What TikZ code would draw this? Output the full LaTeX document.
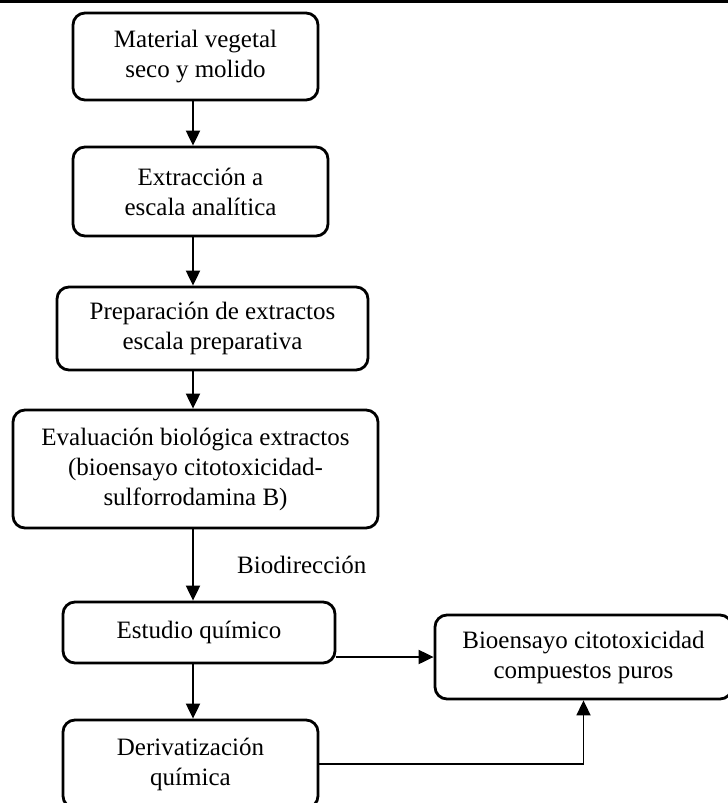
\documentclass[tikz,border=0pt]{standalone}
\usepackage{fontspec}
\setmainfont{Liberation Serif}
\usetikzlibrary{arrows.meta}

\begin{document}
\begin{tikzpicture}[x=1pt,y=-1pt,
	caja/.style={draw, line width=2.8pt, rounded corners=12pt, align=center, inner sep=0pt, font=\fontsize{25}{30}\selectfont},
	flecha/.style={line width=2pt, -{Triangle[length=15pt,width=14pt]}}]

	\useasboundingbox (0,0) rectangle (728,803);
	\draw[line width=3pt] (0,1.5) -- (728,1.5);

	\coordinate (ax) at (193,0);

	\node[caja, minimum width=245pt, minimum height=87pt] (mat) at (195.5,56.5) {Material vegetal\\seco y molido};
	\node[caja, minimum width=255pt, minimum height=89pt] (ext) at (200.5,191.5) {Extracción a\\escala analítica};
	\node[caja, minimum width=311pt, minimum height=83pt] (prep) at (212.5,328.5) {Preparación de extractos\\escala preparativa};
	\node[caja, minimum width=365pt, minimum height=118pt] (eval) at (195.5,469) {Evaluación biológica extractos\\(bioensayo citotoxicidad-\\sulforrodamina B)};
	\node[caja, minimum width=272pt, minimum height=61pt] (est) at (199,632.5) {Estudio químico};
	\node[caja, minimum width=255pt, minimum height=88pt] (deriv) at (190.5,764) {Derivatización\\química};
	\node[caja, minimum width=297pt, minimum height=84pt] (bioens) at (583.5,657) {Bioensayo citotoxicidad\\compuestos puros};

	\node[anchor=base west, inner sep=0pt, font=\fontsize{25}{30}\selectfont] (biodir) at (237,573) {Biodirección};

	\draw[flecha] (mat.south -| ax) -- (ext.north -| ax);
	\draw[flecha] (ext.south -| ax) -- (prep.north -| ax);
	\draw[flecha] (prep.south -| ax) -- (eval.north -| ax);
	\draw[flecha] (eval.south -| ax) -- (est.north -| ax);
	\draw[flecha] (est.south -| ax) -- (deriv.north -| ax);

	\draw[flecha] (bioens.west -| est.east) -- (bioens.west);
	\draw[flecha, line width=1.8pt] (deriv.east) -| (bioens.south);

\end{tikzpicture}
\end{document}
